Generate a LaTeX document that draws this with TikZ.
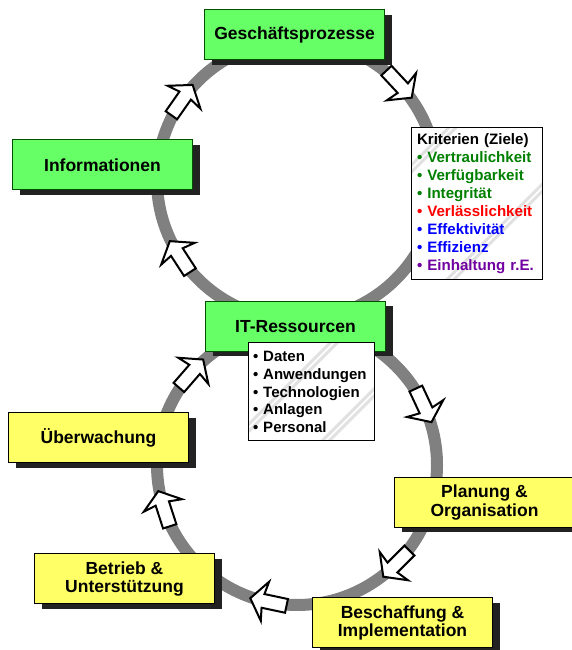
\documentclass[tikz,border=0pt]{standalone}
\usepackage{fontspec}
\setmainfont{Liberation Sans}
\usetikzlibrary{shadows}
\definecolor{boxgreen}{RGB}{102,255,102}
\definecolor{boxyellow}{RGB}{255,255,102}
\definecolor{greenline}{RGB}{0,80,0}
\definecolor{ringgray}{RGB}{128,128,128}
\definecolor{shadowgray}{RGB}{34,34,34}
\definecolor{stripegray}{RGB}{225,225,225}
\definecolor{critgreen}{RGB}{0,128,0}
\definecolor{critred}{RGB}{255,0,0}
\definecolor{critblue}{RGB}{0,0,255}
\definecolor{critpurple}{RGB}{112,0,160}

\tikzset{
  cyclearrow/.pic = {\draw[fill = white, line width = 2pt, line join = miter] (-19,-7) -- (5,-7) -- (3,-20) -- (18,0) -- (3,20) -- (5,7) -- (-19,7) -- cycle;},
  stepbox/.style = {draw, line width = 1pt, minimum width = 180pt, minimum height = 50pt, inner sep = 0pt, align = center, font = \fontsize{17.5}{18.5}\selectfont\bfseries, drop shadow = {shadow xshift = 7pt, shadow yshift = -5pt, fill = shadowgray, opacity = 1}},
  goalbox/.style = {stepbox, draw = greenline, fill = boxgreen},
  phasebox/.style = {stepbox, fill = boxyellow},
  listbox/.style 2 args = {draw, fill = white, line width = 1pt, inner sep = 0pt, align = left,
    path picture = {\foreach \o in {#1, #1+7, #2, #2+7}
      \draw[stripegray, line width = 3pt] ([xshift = \o pt]path picture bounding box.center) ++(-120,-120) -- ++(240,240);}}
}

\begin{document}
\begin{tikzpicture}[x = 1pt, y = 1pt]
\clip (0,0) rectangle (572,650);

\coordinate (up) at (297,470);
\coordinate (lo) at (297,185);
\draw[ringgray, line width = 12pt] (up) circle (140);
\draw[ringgray, line width = 12pt] (lo) circle (140);

\pic[rotate = 55] at ([shift = {(145:140)}]up) {cyclearrow};
\pic[rotate = -47] at ([shift = {(43:140)}]up) {cyclearrow};
\pic[rotate = 123] at ([shift = {(213:140)}]up) {cyclearrow};
\pic[rotate = -65] at ([shift = {(25:140)}]lo) {cyclearrow};
\pic[rotate = -135] at ([shift = {(-45:140)}]lo) {cyclearrow};
\pic[rotate = 168] at ([shift = {(258:140)}]lo) {cyclearrow};
\pic[rotate = 108] at ([shift = {(198:140)}]lo) {cyclearrow};
\pic[rotate = 49] at ([shift = {(139:140)}]lo) {cyclearrow};

\node[goalbox] (proc) at (294.5,615) {Geschäftsprozesse};
\node[goalbox] (info) at (102.5,485) {Informationen};
\node[goalbox] (itres) at (295.5,323.5) {IT-Ressourcen};

\node[listbox = {-30}{60}, minimum width = 126pt, minimum height = 98pt, text width = 116pt, font = \fontsize{15}{17.7}\selectfont\bfseries] (res) at (311,258)
  {• Daten\\• Anwendungen\\• Technologien\\• Anlagen\\• Personal};

\node[listbox = {-104}{46}, minimum width = 131pt, minimum height = 152pt, text width = 119pt, font = \fontsize{15.1}{18}\selectfont\bfseries] (crit) at (476.5,446)
  {Kriterien (Ziele)\\
   \textcolor{critgreen}{• Vertraulichkeit}\\
   \textcolor{critgreen}{• Verfügbarkeit}\\
   \textcolor{critgreen}{• Integrität}\\
   \textcolor{critred}{• Verlässlichkeit}\\
   \textcolor{critblue}{• Effektivität}\\
   \textcolor{critblue}{• Effizienz}\\
   \textcolor{critpurple}{• Einhaltung r.E.}};

\node[phasebox] (watch) at (98.5,212) {Überwachung};
\node[phasebox] (ops) at (124.5,71) {Betrieb \&\\Unterstützung};
\node[phasebox] (plan) at (484.5,147.5) {Planung \&\\Organisation};
\node[phasebox] (acq) at (402.5,27) {Beschaffung \&\\Implementation};

\end{tikzpicture}
\end{document}
